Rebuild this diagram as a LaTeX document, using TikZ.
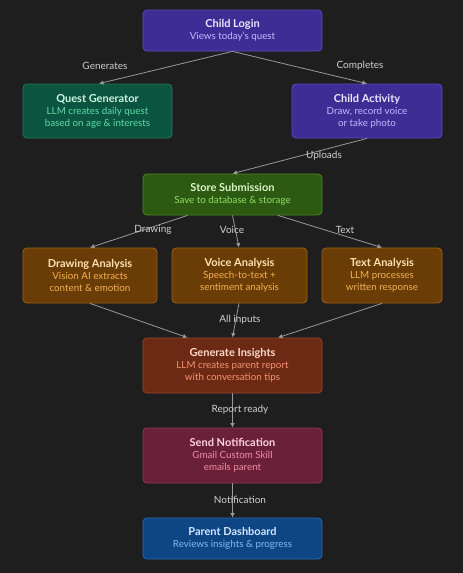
\documentclass[tikz,border=0pt]{standalone}
\usepackage{fontspec}
\setmainfont{Lato}
\usetikzlibrary{arrows.meta,calc}
\definecolor{bg}{HTML}{1E1E1E}
\definecolor{edge}{HTML}{9A9A9A}
\definecolor{lbl}{HTML}{D0D0D0}
\definecolor{pF}{HTML}{3D2D94}\definecolor{pD}{HTML}{5A4AC0}\definecolor{pT}{HTML}{ECE8FF}\definecolor{pS}{HTML}{C2B8FF}
\definecolor{gF}{HTML}{0B5440}\definecolor{gD}{HTML}{1F7A58}\definecolor{gT}{HTML}{CCF5E2}\definecolor{gS}{HTML}{5FDDA8}
\definecolor{lF}{HTML}{2D5A12}\definecolor{lD}{HTML}{4A8A22}\definecolor{lT}{HTML}{DCF5C6}\definecolor{lS}{HTML}{92DE62}
\definecolor{oF}{HTML}{6A3C06}\definecolor{oD}{HTML}{A0620F}\definecolor{oT}{HTML}{FFE2B4}\definecolor{oS}{HTML}{F5B152}
\definecolor{rF}{HTML}{6C2A15}\definecolor{rD}{HTML}{A04428}\definecolor{rT}{HTML}{FFDACB}\definecolor{rS}{HTML}{F59272}
\definecolor{mF}{HTML}{6A2038}\definecolor{mD}{HTML}{9A3555}\definecolor{mT}{HTML}{FFD3DE}\definecolor{mS}{HTML}{F08CAA}
\definecolor{bF}{HTML}{0D4585}\definecolor{bD}{HTML}{2A6AB5}\definecolor{bT}{HTML}{D3E8FF}\definecolor{bS}{HTML}{82BAF5}
\tikzset{
  box/.style={draw=#1D, fill=#1F, rounded corners=4pt, line width=0.8pt, align=center, inner sep=0pt, font=\fontsize{9.8}{12}\selectfont, text=#1S},
  conn/.style={draw=edge, line width=0.8pt, -{Latex[length=4.5pt,width=4.5pt]}},
  elabel/.style={text=lbl, font=\fontsize{10}{11}\selectfont, inner sep=0pt},
}
\newcommand{\bx}[3]{{\color{#1T}\bfseries\fontsize{11}{14}\selectfont #2}\\#3}
\begin{document}
\begin{tikzpicture}[x=1pt,y=-1pt]
\fill[bg] (0,0) rectangle (463,573);
\useasboundingbox (0,0) rectangle (463,573);

\node[box=p, minimum width=179pt, minimum height=41pt] (login) at (232.5,30.5) {\bx{p}{Child Login}{Views today's quest}};
\node[box=g, minimum width=149pt, minimum height=54pt] (qg) at (97.5,111) {\bx{g}{Quest Generator}{LLM creates daily quest\\based on age \& interests}};
\node[box=p, minimum width=150pt, minimum height=54pt] (act) at (367,111) {\bx{p}{Child Activity}{Draw, record voice\\or take photo}};
\node[box=l, minimum width=179pt, minimum height=41pt] (store) at (232.5,194.5) {\bx{l}{Store Submission}{Save to database \& storage}};
\node[box=o, minimum width=134pt, minimum height=55pt] (draw) at (90,275.5) {\bx{o}{Drawing Analysis}{Vision AI extracts\\content \& emotion}};
\node[box=o, minimum width=135pt, minimum height=55pt] (voice) at (239.5,275.5) {\bx{o}{Voice Analysis}{Speech-to-text +\\sentiment analysis}};
\node[box=o, minimum width=120pt, minimum height=55pt] (text) at (382,275.5) {\bx{o}{Text Analysis}{LLM processes\\written response}};
\node[box=r, minimum width=179pt, minimum height=55pt] (gen) at (232.5,365.5) {\bx{r}{Generate Insights}{LLM creates parent report\\with conversation tips}};
\node[box=m, minimum width=179pt, minimum height=55pt] (notif) at (232.5,455.5) {\bx{m}{Send Notification}{Gmail Custom Skill\\emails parent}};
\node[box=b, minimum width=179pt, minimum height=41pt] (dash) at (232.5,538.5) {\bx{b}{Parent Dashboard}{Reviews insights \& progress}};

\draw[conn] (login.south) -- ($(qg.north)+(1.5,0)$);
\draw[conn] (login.south) -- (act.north);
\draw[conn] (act.south) -- (store.north);
\draw[conn] ($(store.south)+(-45,0)$) -- (draw.north);
\draw[conn] (store.south) -- ($(voice.north)+(-0.5,0)$);
\draw[conn] ($(store.south)+(45.5,0)$) -- (text.north);
\draw[conn] (draw.south) -- ($(gen.north)+(-45,0)$);
\draw[conn] ($(voice.south)+(-0.5,0)$) -- (gen.north);
\draw[conn] (text.south) -- ($(gen.north)+(45.5,0)$);
\draw[conn] (gen.south) -- (notif.north);
\draw[conn] (notif.south) -- (dash.north);

\node[elabel] (l1) at (105,66) {Generates};
\node[elabel] (l2) at (360,66) {Completes};
\node[elabel] (l3) at (324,156) {Uploads};
\node[elabel] (l4) at (153,230) {Drawing};
\node[elabel] (l5) at (232,230) {Voice};
\node[elabel] (l6) at (345,230) {Text};
\node[elabel] (l7) at (240,320) {All inputs};
\node[elabel] (l8) at (240,410) {Report ready};
\node[elabel] (l9) at (240,500) {Notification};
\end{tikzpicture}
\end{document}
